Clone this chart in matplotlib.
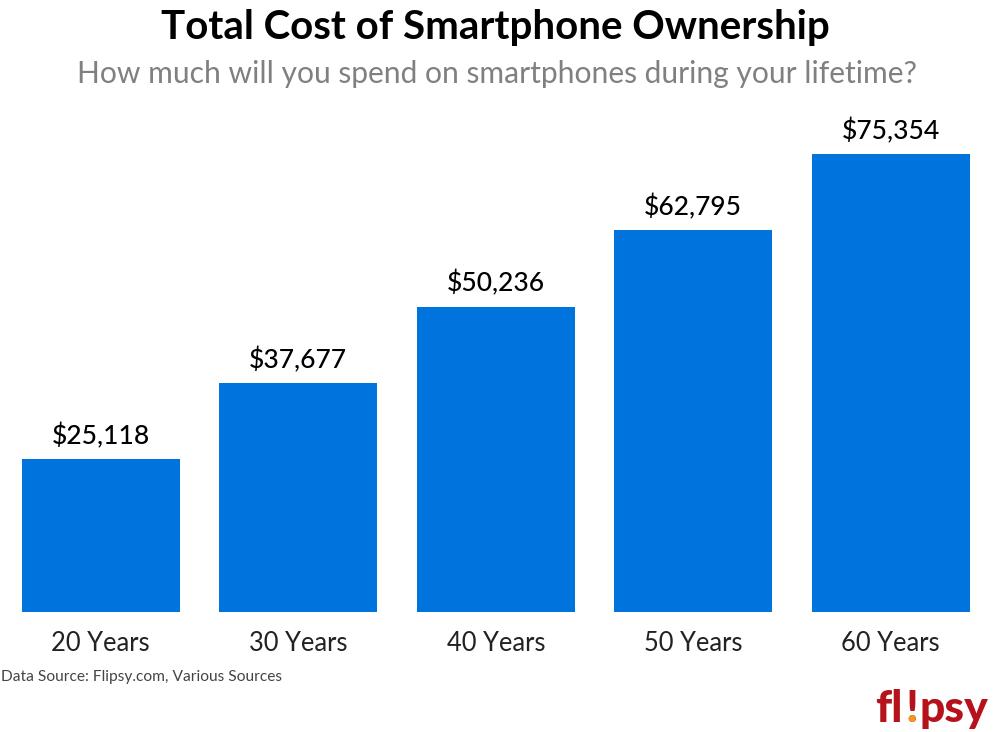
import matplotlib
matplotlib.use("Agg")
import matplotlib.pyplot as plt

categories = ["20 Years", "30 Years", "40 Years", "50 Years", "60 Years"]
values = [25118, 37677, 50236, 62795, 75354]
title = "Total Cost of Smartphone Ownership"
subtitle = "How much will you spend on smartphones during your lifetime?"
source = "Data Source: Flipsy.com, Various Sources"

plt.rcParams['font.family'] = ['Lato', 'DejaVu Sans']
W, H = 1000, 732
fig = plt.figure(figsize=(W/100, H/100), dpi=100, facecolor='white')
ax = fig.add_axes([0, 1-611.5/H, 1, (611.5-100)/H])
centers = list(range(5))
step = 197.5
ax.set_xlim(-100.8/step, (W-100.8)/step)
ymax = 75354 * (611.5-100)/(611.5-154)
ax.set_ylim(0, ymax)
ax.bar(centers, values, width=158/step, color='#0074DC', linewidth=0)
for c, v in zip(centers, values):
    ax.annotate(f"${v:,}", (c, v), xytext=(0, 7), textcoords='offset points',
                ha='center', va='bottom', fontsize=19, fontweight='medium', color='black')
ax.set_xticks(centers)
ax.set_xticklabels(categories, fontsize=18.4, color='#222222')
ax.tick_params(axis='x', length=0, pad=14)
ax.set_yticks([])
for s in ax.spines.values():
    s.set_visible(False)
ax.patch.set_alpha(0)

fig.text(0.4958, 1-27/H, title, ha='center', va='center', fontsize=29.03, fontweight='bold', color='black')
fig.text(0.497, 1-74/H, subtitle, ha='center', va='center', fontsize=21.65, color='#808080')
fig.text(1/W, 1-677/H, source, ha='left', va='center', fontsize=11.15, color='#444444')

# Logo as real text
red = '#B5121B'
base = 1-722/H
kw = dict(ha='left', va='baseline', fontsize=32, fontweight='black', color=red)
fig.text(875.5/W, base, "fl", **kw)
fig.text(905/W, base, "!", **kw)
fig.text(906.5/W, base, ".", ha='left', va='baseline', fontsize=32, fontweight='black', color='#F7941D')
fig.text(919.5/W, base, "psy", **kw)
fig.savefig("out.png", dpi=100)
